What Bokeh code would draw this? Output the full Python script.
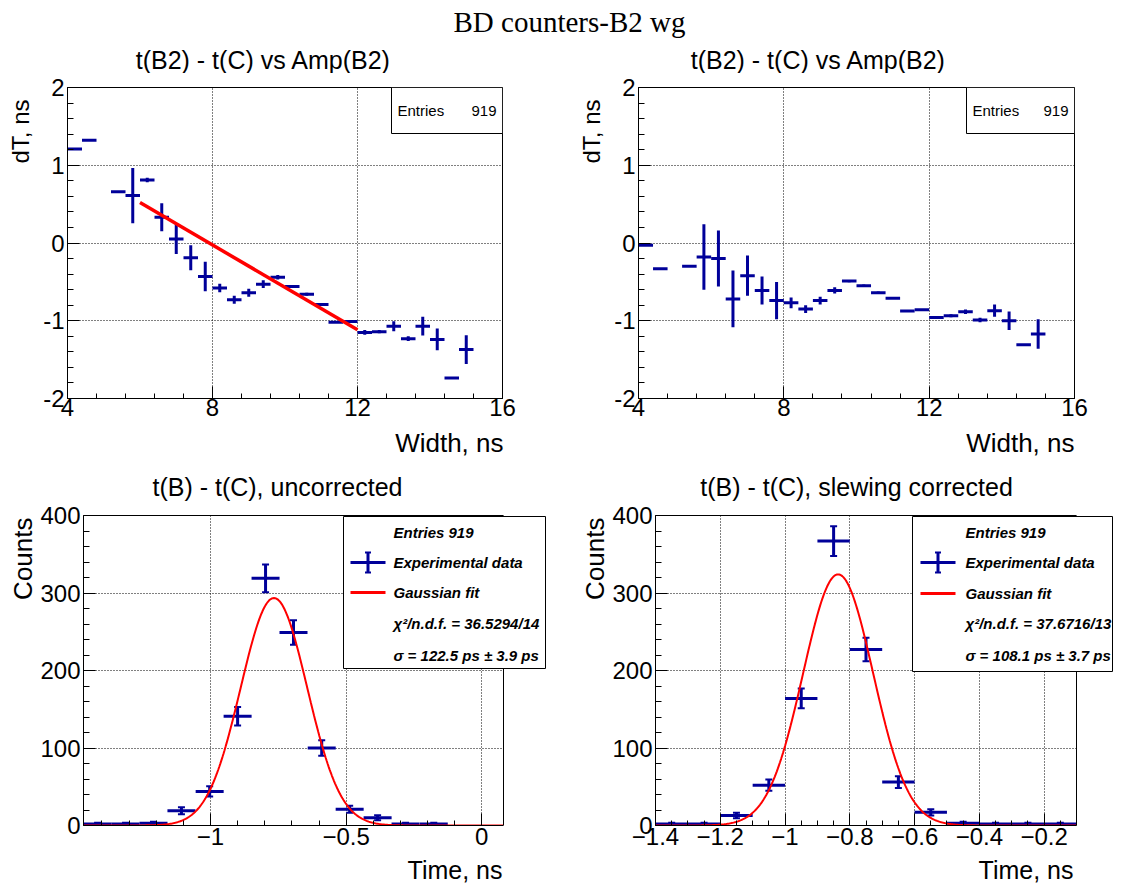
import numpy as np
from bokeh.plotting import figure
from bokeh.models import Range1d, FixedTicker, Label, BoxAnnotation, LinearAxis, Span
from bokeh.layouts import column, row
from bokeh.embed import file_html
from bokeh.resources import INLINE

# ---------------- texts ----------------
MAIN_TITLE = "BD counters-B2 wg"
TOP_TITLE = "t(B2) - t(C) vs Amp(B2)"
BL_TITLE = "t(B) - t(C), uncorrected"
BR_TITLE = "t(B) - t(C), slewing corrected"
TOP_XLABEL = "Width, ns"
TOP_YLABEL = "dT, ns"
BOT_XLABEL = "Time, ns"
BOT_YLABEL = "Counts"
STAT_NAME = "Entries"
STAT_VALUE = "919"

# ---------------- top panels: profile dT vs width ----------------
width_bin = 0.4
width_centers = [4.2, 4.6, 5.4, 5.8, 6.2, 6.6, 7.0, 7.4, 7.8, 8.2, 8.6, 9.0, 9.4, 9.8,
                 10.2, 10.6, 11.0, 11.4, 11.8, 12.2, 12.6, 13.0, 13.4, 13.8, 14.2, 14.6, 15.0]
dt_uncorr = [1.21, 1.32, 0.66, 0.61, 0.81, 0.33, 0.05, -0.19, -0.43, -0.58, -0.73, -0.64, -0.53, -0.44,
             -0.56, -0.66, -0.79, -1.02, -1.01, -1.15, -1.14, -1.07, -1.23, -1.07, -1.24, -1.735, -1.37]
dt_uncorr_err = [0.0, 0.0, 0.0, 0.355, 0.03, 0.18, 0.19, 0.16, 0.19, 0.055, 0.05, 0.05, 0.05, 0.03,
                 0.02, 0.02, 0.015, 0.01, 0.02, 0.03, 0.02, 0.065, 0.03, 0.12, 0.14, 0.0, 0.185]
slew_fit_x = [6.0, 12.0]
slew_fit_y = [0.52, -1.115]

dt_corr = [-0.03, -0.33, -0.30, -0.18, -0.20, -0.72, -0.42, -0.61, -0.74, -0.77, -0.85, -0.74, -0.61, -0.49,
           -0.55, -0.64, -0.71, -0.875, -0.86, -0.957, -0.935, -0.884, -0.99, -0.87, -1.0, -1.31, -1.17]
dt_corr_err = [0.0, 0.0, 0.0, 0.42, 0.36, 0.365, 0.26, 0.18, 0.24, 0.07, 0.05, 0.05, 0.04, 0.015,
               0.015, 0.015, 0.01, 0.01, 0.01, 0.01, 0.02, 0.03, 0.03, 0.08, 0.12, 0.0, 0.19]

top_xrange = (4.0, 16.0)
top_yrange = (-2.0, 2.0)
top_xticks = [4, 8, 12, 16]
top_xtick_labels = ["4", "8", "12", "16"]
top_yticks = [-2, -1, 0, 1, 2]
top_ytick_labels = ["-2", "-1", "0", "1", "2"]

# ---------------- bottom-left: uncorrected time histogram ----------------
unc_bin = 0.1032
unc_centers = [-1.416, -1.313, -1.210, -1.107, -1.003, -0.900, -0.797, -0.694, -0.590,
               -0.487, -0.384, -0.281, -0.177]
unc_counts = [2, 2, 3, 19, 44, 141, 319, 249, 100, 21, 10, 2, 2]
unc_err = [1.4, 1.4, 1.7, 4.4, 6.6, 11.9, 17.9, 15.8, 10.0, 4.6, 3.2, 1.4, 1.4]
unc_fit_amp, unc_fit_mean, unc_fit_sigma = 293.5, -0.766, 0.1225
unc_xrange = (-1.468, 0.080)
unc_xticks = [-1.0, -0.5, 0.0]
unc_xtick_labels = ["\u22121", "\u22120.5", "0"]
unc_legend = ["Entries 919", "Experimental data", "Gaussian fit",
              "\u03c7\u00b2/n.d.f. = 36.5294/14", "\u03c3 = 122.5 ps \u00b1 3.9 ps"]

# ---------------- bottom-right: slewing corrected time histogram ----------------
cor_bin = 0.1
cor_centers = [-1.35, -1.25, -1.15, -1.05, -0.95, -0.85, -0.75, -0.65, -0.55, -0.45, -0.35, -0.25, -0.15]
cor_counts = [2, 2, 13, 52, 164, 367, 227, 56, 17, 3, 2, 2, 2]
cor_err = [1.4, 1.4, 3.6, 7.2, 12.8, 19.2, 15.1, 7.5, 4.1, 1.7, 1.4, 1.4, 1.4]
cor_fit_amp, cor_fit_mean, cor_fit_sigma = 324.0, -0.836, 0.1081
cor_xrange = (-1.4, -0.1)
cor_xticks = [-1.4, -1.2, -1.0, -0.8, -0.6, -0.4, -0.2]
cor_xtick_labels = ["\u22121.4", "\u22121.2", "\u22121", "\u22120.8", "\u22120.6", "\u22120.4", "\u22120.2"]
cor_legend = ["Entries 919", "Experimental data", "Gaussian fit",
              "\u03c7\u00b2/n.d.f. = 37.6716/13", "\u03c3 = 108.1 ps \u00b1 3.7 ps"]

count_yrange = (0, 400)
count_yticks = [0, 100, 200, 300, 400]
count_ytick_labels = ["0", "100", "200", "300", "400"]

BLUE = "#000099"
RED = "#ff0000"
SANS = "Liberation Sans"
SERIF = "Liberation Serif"


def base_fig(fw, fh, bl, bt, br, bb, xr, yr, xt, xtl, xminor, yt, ytl, yminor, xstand, outline=True):
    p = figure(frame_width=fw, frame_height=fh,
               min_border_left=bl, min_border_top=bt, min_border_right=br, min_border_bottom=bb,
               x_range=Range1d(*xr), y_range=Range1d(*yr),
               output_backend="svg", toolbar_location=None)
    p.background_fill_color = "white"
    p.border_fill_color = "white"
    p.outline_line_color = "black" if outline else None
    p.outline_line_width = 1
    p.outline_line_alpha = 1
    xtk = FixedTicker(ticks=xt, minor_ticks=xminor)
    ytk = FixedTicker(ticks=yt, minor_ticks=yminor)
    p.xaxis.ticker = xtk
    p.yaxis.ticker = ytk
    p.xgrid.ticker = xtk
    p.ygrid.ticker = ytk
    p.xaxis.major_label_overrides = {float(v): s for v, s in zip(xt, xtl)}
    p.yaxis.major_label_overrides = {float(v): s for v, s in zip(yt, ytl)}
    for ax in (p.xaxis[0], p.yaxis[0]):
        ax.axis_line_color = "black"
        ax.axis_line_width = 1
        ax.major_tick_in = 12
        ax.major_tick_out = 0
        ax.minor_tick_out = 0
        ax.major_tick_line_color = "black"
        ax.minor_tick_line_color = "black"
        ax.major_label_text_font = SANS
        ax.major_label_text_font_size = "24px"
        ax.major_label_text_color = "black"
    p.xaxis.major_label_standoff = xstand
    p.yaxis.major_label_standoff = 3
    p.xaxis.minor_tick_in = 5
    p.yaxis.minor_tick_in = 6
    p.grid.grid_line_color = "black"
    p.grid.grid_line_dash = "1 2"
    p.grid.grid_line_width = 1
    p.grid.grid_line_alpha = 1
    return p


def strip(w, h):
    s = figure(frame_width=w, frame_height=h, min_border=0, min_border_left=0, min_border_right=0,
               min_border_top=0, min_border_bottom=0, x_range=Range1d(0, 1), y_range=Range1d(0, 1),
               output_backend="svg", toolbar_location=None, x_axis_type=None, y_axis_type=None)
    s.outline_line_color = None
    s.background_fill_color = "white"
    s.border_fill_color = "white"
    return s


def txt(p, fl, fb, px, py, text, size, align="left", baseline="middle", angle=0.0,
        font=SANS, style="normal"):
    p.add_layout(Label(x=px - fl, y=fb - py, x_units="screen", y_units="screen", text=text,
                       text_font=font, text_font_size=f"{size}px", text_font_style=style,
                       text_align=align, text_baseline=baseline, angle=angle, text_color="black",
                       level="overlay"))


def box(p, fl, fb, x0, x1, y0, y1, fill="white", line="black", lw=1):
    p.add_layout(BoxAnnotation(left=x0 - fl, right=x1 - fl, top=fb - y0, bottom=fb - y1,
                               left_units="screen", right_units="screen",
                               top_units="screen", bottom_units="screen",
                               fill_color=fill if fill else "white", fill_alpha=1.0 if fill else 0.0,
                               line_color=line if line else "black", line_alpha=1.0 if line else 0.0,
                               line_width=lw, level="overlay"))


def draw_hist(p, centers, vals, errs, binw, caps):
    p.segment(x0=[c - binw / 2 for c in centers], x1=[c + binw / 2 for c in centers],
              y0=vals, y1=vals, line_color=BLUE, line_width=3)
    lo = [v - e for v, e in zip(vals, errs)]
    hi = [v + e for v, e in zip(vals, errs)]
    p.segment(x0=centers, x1=centers, y0=lo, y1=hi, line_color=BLUE, line_width=3)
    if caps:
        cx = [c for c, e in zip(centers, errs) if e > 0]
        cy = [l for l, e in zip(lo, errs) if e > 0] + [h for h, e in zip(hi, errs) if e > 0]
        p.scatter(x=cx + cx, y=cy, marker="dash", size=7, line_color=BLUE, line_width=2)


def stat_box(p, fl, fb, x0, x1, y0, y1):
    box(p, fl, fb, x0, x1, y0, y1)
    yc = (y0 + y1) / 2
    txt(p, fl, fb, x0 + 6, yc, STAT_NAME, 15)
    txt(p, fl, fb, x1 - 6, yc, STAT_VALUE, 15, align="right")


def legend(p, fl, fb, bx, text_x, sx0, sx1, rows, texts):
    box(p, fl, fb, *bx)
    sc = (sx0 + sx1) / 2
    y1 = rows[1]
    box(p, fl, fb, sx0, sx1, y1 - 1.5, y1 + 1.5, fill=BLUE, line=None)
    box(p, fl, fb, sc - 1.5, sc + 1.5, y1 - 10, y1 + 10, fill=BLUE, line=None)
    box(p, fl, fb, sc - 3, sc + 3, y1 - 11, y1 - 9, fill=BLUE, line=None)
    box(p, fl, fb, sc - 3, sc + 3, y1 + 9, y1 + 11, fill=BLUE, line=None)
    y2 = rows[2]
    box(p, fl, fb, sx0, sx1, y2 - 1.5, y2 + 1.5, fill=RED, line=None)
    for yy, t in zip(rows, texts):
        txt(p, fl, fb, text_x, yy, t, 15, style="bold italic")


def close_frame(p, xr):
    # frame edges of a histogram whose canvas frame is wider than its data range
    p.below[0].bounds = xr
    top = LinearAxis(bounds=xr, ticker=FixedTicker(ticks=[]), major_tick_in=0, major_tick_out=0,
                     minor_tick_in=0, minor_tick_out=0, major_label_text_font_size="0px",
                     axis_line_color="black", axis_line_width=1)
    p.add_layout(top, "above")
    p.add_layout(BoxAnnotation(left=xr[1], fill_color="white", fill_alpha=1.0, line_alpha=0.0,
                               level="annotation"))
    p.add_layout(Span(location=xr[1], dimension="height", line_color="black", line_width=1,
                      level="annotation"))


# ---------------- header strip: 0..73 ----------------
H_H = 73
hdr = strip(1114, H_H)
txt(hdr, 0, H_H, 569, 21, MAIN_TITLE, 29, align="center", font=SERIF)
txt(hdr, 0, H_H, 263, 59, TOP_TITLE, 25, align="center")
txt(hdr, 0, H_H, 818, 59, TOP_TITLE, 25, align="center")

top_xminor = [float(v) for v in np.arange(4.0, 16.001, 0.8)]
top_yminor = [float(v) for v in np.arange(-2.0, 2.001, 0.2)]

# ---------------- row 1: 73..427 ----------------
R1T, R1H = 73, 354
yl1 = strip(36, R1H)
txt(yl1, 0, R1T + R1H, 20, 85, TOP_YLABEL, 24, align="right", angle=np.pi / 2)

p1 = base_fig(435, 311, 31, 14, 73, 29, top_xrange, top_yrange,
              top_xticks, top_xtick_labels, top_xminor, top_yticks, top_ytick_labels, top_yminor, 0)
draw_hist(p1, width_centers, dt_uncorr, dt_uncorr_err, width_bin, caps=False)
p1.line(slew_fit_x, slew_fit_y, line_color=RED, line_width=3.5)
stat_box(p1, 67, 398, 391, 502, 87, 133)

yl2 = strip(34, R1H)
txt(yl2, 575, R1T + R1H, 591, 85, TOP_YLABEL, 24, align="right", angle=np.pi / 2)

p2 = base_fig(436, 311, 29, 14, 40, 29, top_xrange, top_yrange,
              top_xticks, top_xtick_labels, top_xminor, top_yticks, top_ytick_labels, top_yminor, 0)
draw_hist(p2, width_centers, dt_corr, dt_corr_err, width_bin, caps=False)
stat_box(p2, 638, 398, 966, 1074, 87, 133)

# ---------------- middle strip: 427..501 ----------------
M_T, M_H = 427, 74
mid = strip(1114, M_H)
txt(mid, 0, M_T + M_H, 503, 442, TOP_XLABEL, 26, align="right")
txt(mid, 0, M_T + M_H, 1074, 442, TOP_XLABEL, 26, align="right")
txt(mid, 0, M_T + M_H, 277, 486, BL_TITLE, 25, align="center")
txt(mid, 0, M_T + M_H, 856, 486, BR_TITLE, 25, align="center")

count_yminor = [float(v) for v in np.arange(0, 400.1, 20)]

# ---------------- row 3: 501..855 ----------------
R3T, R3H = 501, 354
yl3 = strip(36, R3H)
txt(yl3, 0, R3T + R3H, 22, 503, BOT_YLABEL, 26, align="right", angle=np.pi / 2)

unc_data_w, unc_frame_w = 420, 464
unc_view = (unc_xrange[0], unc_xrange[0] + (unc_xrange[1] - unc_xrange[0]) * unc_frame_w / unc_data_w)
unc_xminor = [float(v) for v in np.arange(-1.4, 0.001, 0.1)]
p3 = base_fig(unc_frame_w, 310, 47, 14, 28, 30, unc_view, count_yrange,
              unc_xticks, unc_xtick_labels, unc_xminor, count_yticks, count_ytick_labels, count_yminor, 2,
              outline=False)
draw_hist(p3, unc_centers, unc_counts, unc_err, unc_bin, caps=True)
xs3 = np.linspace(unc_xrange[0], unc_xrange[1], 400)
p3.line(xs3, unc_fit_amp * np.exp(-0.5 * ((xs3 - unc_fit_mean) / unc_fit_sigma) ** 2),
        line_color=RED, line_width=2)
close_frame(p3, unc_xrange)
legend(p3, 83, 825, (343, 545, 516, 668), 393, 350, 385, [532, 562, 592, 623, 655], unc_legend)

yl4 = strip(34, R3H)
txt(yl4, 575, R3T + R3H, 594, 503, BOT_YLABEL, 26, align="right", angle=np.pi / 2)

cor_data_w, cor_frame_w = 421, 459
cor_view = (cor_xrange[0], cor_xrange[0] + (cor_xrange[1] - cor_xrange[0]) * cor_frame_w / cor_data_w)
cor_xminor = [float(v) for v in np.arange(-1.4, -0.099, 0.05)]
p4 = base_fig(cor_frame_w, 310, 44, 14, 2, 30, cor_view, count_yrange,
              cor_xticks, cor_xtick_labels, cor_xminor, count_yticks, count_ytick_labels, count_yminor, 2,
              outline=False)
draw_hist(p4, cor_centers, cor_counts, cor_err, cor_bin, caps=True)
xs4 = np.linspace(cor_xrange[0], cor_xrange[1], 400)
p4.line(xs4, cor_fit_amp * np.exp(-0.5 * ((xs4 - cor_fit_mean) / cor_fit_sigma) ** 2),
        line_color=RED, line_width=2)
close_frame(p4, cor_xrange)
legend(p4, 653, 825, (910, 1110, 516, 671), 963, 918, 953, [532, 562, 593, 623, 655], cor_legend)

# ---------------- bottom strip: 855..885 ----------------
B_T, B_H = 855, 30
bot = strip(1114, B_H)
txt(bot, 0, B_T + B_H, 502, 869, BOT_XLABEL, 25, align="right")
txt(bot, 0, B_T + B_H, 1073, 869, BOT_XLABEL, 25, align="right")

layout = column(hdr, row(yl1, p1, yl2, p2), mid, row(yl3, p3, yl4, p4), bot)
open("out.html", "w").write(file_html(layout, INLINE))
